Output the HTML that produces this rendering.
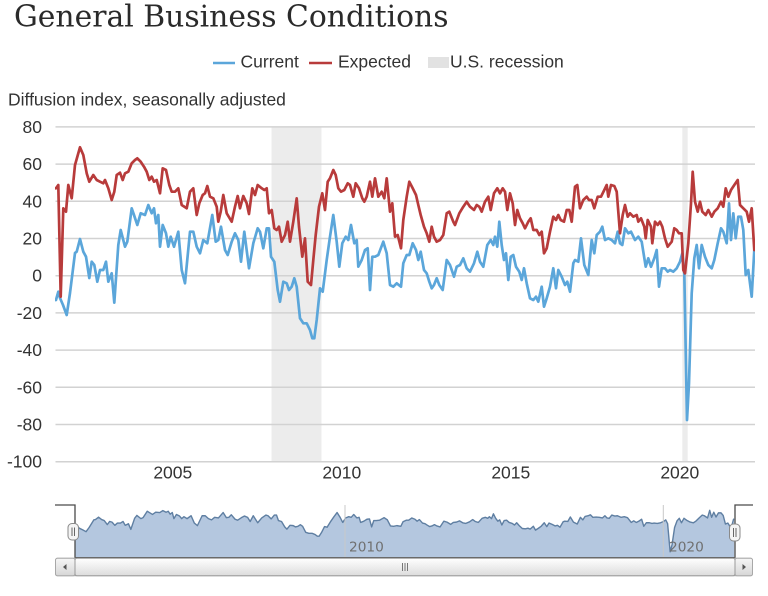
<!DOCTYPE html>
<html>
<head>
<meta charset="utf-8">
<style>
  html, body { margin: 0; padding: 0; background: #fff; }
  svg { display: block; }
  .lbl { font-family: "Liberation Sans", Arial, sans-serif; font-size: 17.5px; fill: #333; }
</style>
</head>
<body>
<svg width="768" height="596" viewBox="0 0 768 596" xmlns="http://www.w3.org/2000/svg">
  <defs>
    <clipPath id="plot"><rect x="55" y="120" width="700" height="345"/></clipPath>
    <clipPath id="nav"><rect x="75" y="500" width="660" height="58"/></clipPath>
    <linearGradient id="sb" x1="0" y1="0" x2="0" y2="1">
      <stop offset="0" stop-color="#ffffff"/>
      <stop offset="1" stop-color="#dcdcdc"/>
    </linearGradient>
    <linearGradient id="btn" x1="0" y1="0" x2="0" y2="1">
      <stop offset="0" stop-color="#f6f6f6"/>
      <stop offset="1" stop-color="#d6d6d6"/>
    </linearGradient>
  </defs>

  <rect width="768" height="596" fill="#fff"/>

  <!-- Title -->
  <text x="14" y="26.7" font-family="'DejaVu Serif', 'Liberation Serif', serif" font-size="29.8" fill="#2a2a2a">General Business Conditions</text>

  <!-- Legend -->
  <line x1="213" y1="63" x2="235" y2="63" stroke="#5ba6da" stroke-width="2.4"/>
  <text class="lbl" x="240.5" y="67.7">Current</text>
  <line x1="309" y1="63" x2="332" y2="63" stroke="#b83b3b" stroke-width="2.4"/>
  <text class="lbl" x="338" y="67.7">Expected</text>
  <rect x="428" y="57" width="21" height="11" fill="#e2e2e2"/>
  <text class="lbl" x="450" y="67.7">U.S. recession</text>

  <!-- Axis title -->
  <text class="lbl" x="8" y="105.7">Diffusion index, seasonally adjusted</text>

  <!-- Recession bands -->
  <rect x="271.5" y="127" width="50" height="335" fill="#ececec"/>
  <rect x="682.3" y="127" width="5.4" height="335" fill="#ececec"/>

  <!-- Gridlines -->
  <g stroke="#d2d2d2" stroke-width="1.5">
    <line x1="55.5" y1="126.9" x2="755" y2="126.9"/>
    <line x1="55.5" y1="164.1" x2="755" y2="164.1"/>
    <line x1="55.5" y1="201.3" x2="755" y2="201.3"/>
    <line x1="55.5" y1="238.5" x2="755" y2="238.5"/>
    <line x1="55.5" y1="275.7" x2="755" y2="275.7"/>
    <line x1="55.5" y1="312.9" x2="755" y2="312.9"/>
    <line x1="55.5" y1="350.1" x2="755" y2="350.1"/>
    <line x1="55.5" y1="387.3" x2="755" y2="387.3"/>
    <line x1="55.5" y1="424.5" x2="755" y2="424.5"/>
    <line x1="55.5" y1="461.7" x2="755" y2="461.7"/>
  </g>

  <!-- Y labels -->
  <g class="lbl" text-anchor="end">
    <text x="42" y="132.9">80</text>
    <text x="42" y="170.1">60</text>
    <text x="42" y="207.3">40</text>
    <text x="42" y="244.5">20</text>
    <text x="42" y="281.7">0</text>
    <text x="42" y="318.9">-20</text>
    <text x="42" y="356.1">-40</text>
    <text x="42" y="393.3">-60</text>
    <text x="42" y="430.5">-80</text>
    <text x="42" y="467.7">-100</text>
  </g>

  <!-- X labels -->
  <g class="lbl" text-anchor="middle">
    <text x="172.8" y="478.3">2005</text>
    <text x="341.8" y="478.3">2010</text>
    <text x="510.8" y="478.3">2015</text>
    <text x="679.8" y="478.3">2020</text>
  </g>

  <!-- Series -->
  <g clip-path="url(#plot)" fill="none" stroke-linejoin="round" stroke-linecap="round">
    <polyline stroke="#5ba6da" stroke-width="2.7" points="55,300 56,300 58.3,291.7 60,298 63,305 66.7,315 70,293 75,253 76.7,251.7 80,239 83.3,251.7 86,256.7 89.3,278 91.7,261.7 94.3,265 97.3,281.7 100,270 103.3,270 106,261.7 108.3,281.7 111.7,273.3 114.3,302.7 118.3,245 120.7,230 125,246.7 127.3,241.7 131.7,208.3 134,215 137.3,225 140.7,213.3 145,215 148.3,205 151.7,213.3 154,208.3 156,223.3 158.3,215 160,246.7 162.7,225 166,233.3 168.3,246.7 170.7,236.7 174,246.7 178.3,231.7 181.7,270 185,283.3 190,231.7 193.3,231.7 196.7,246.7 200,253.3 203.3,240 207.3,243.3 212.3,215 215.7,241.7 218.3,240 221,226.7 225,250 227.7,255 231.7,241.7 235,233.3 238.3,240 241,261.7 244.3,231.7 249,268.3 253.3,243.3 257.7,228.3 260,231.7 263.3,248.3 266.7,228.3 269,228.3 271,256.7 274.3,261.7 277.7,290 280,301.7 283.3,281.7 286.7,283.3 289,290 291.7,286.7 294.3,278.3 296.7,286.7 300,318.3 303.3,323.3 306.7,323.3 310,330 312.3,338.3 314.3,338.3 316.7,320 320,288.3 322.7,291.7 326.7,260 330,236.7 333.3,215 336.7,241.7 339.3,266.7 342.3,243.3 345.7,236.7 348.3,240 351,225 354.3,243.3 356.7,240 358.3,266.7 361.7,260 365,250 367.7,248.3 370,290 372.3,256.7 375,256.7 378.3,255 383.3,241.7 386.7,253.3 390,285 393.3,286.7 396.7,283.3 401,286.7 403.3,263.3 406.7,255 409.3,255 412.7,243.3 416,250 418.3,260 420.7,251.7 424,270 426.7,273.3 429.3,281.7 431.7,288.3 434,285 436.7,278.3 439.3,285 442.7,290 446.7,260 450,265 454,276.7 456.7,266.7 460,265 463.3,258.3 466.7,268.3 470,271.7 474,263.3 477.3,251.7 480,261.7 483.3,266.7 487.3,245 490.7,240 493.3,245 495,236.7 497.3,246.7 499.3,221.7 501.7,245 504,260 506,253.3 508.3,280 510.7,256.7 513.3,255 516,266.7 519.3,271.7 521.7,280 524,268.3 526.7,283.3 530,298.3 533.3,300 536,296.7 538.3,301.7 541.7,286.7 544,306.7 546.7,298.3 550,286.7 553.3,268.3 556,288.3 558.3,270 561.7,276.7 565,285 567.3,281.7 570,291.7 573.3,263.3 575,260 578.3,261.7 581,238.3 584.3,265 588.3,275 591.7,240 594.3,253.3 596.7,235 600,231.7 602.3,226.7 605,240 608.3,238.3 611.7,240 615,243.3 617.7,231.7 620,243.3 622.3,245 625,228.3 628.3,233.3 631,231.7 635,240 638.3,236.7 641.7,241.7 645.7,266.7 648.3,258.3 651,266.7 654.3,258.3 656.7,250 659,286.7 661.7,268.3 665,268.3 667.7,271.7 670,270 673.3,271.7 676.7,268.3 680,261.7 682.3,253.3 684.3,273.3 687,420 689,383.3 691.7,293.3 694.3,258.3 696.7,245 699,268.3 701.7,245 705,256.7 708.3,265 711.7,268.3 714.3,260 717.7,243.3 721,228.3 723.3,231.7 726.7,243.3 729,203.3 731,240 733.3,213.3 735.7,238.3 738.3,216.7 741,216.7 743.3,230 745.7,275 748.3,270 751.7,296.7 754.3,250"/>
    <polyline stroke="#b83b3b" stroke-width="2.7" points="55,188.3 56,188.3 58.3,185 60.7,296.7 63.3,208.3 66,211.7 68.3,185 71.7,198.3 75,165 80,147.3 83.3,155 86.7,173.3 89.3,181.7 93.3,175 96.7,180 100,181.7 103.3,183.3 105,180 108.3,188.3 111.7,200 114.3,191.7 116.7,175 120,172.7 122.7,180 125,173.3 128.3,171.7 131.7,163.3 135,160 137.3,158.3 140.7,161.7 144,166.7 146.7,171.7 149.3,180 151.7,176.7 154,181.7 156.7,180 160,193.3 162.7,168.3 166,170 169.3,185 171.7,191.7 175,191.7 178.3,188.3 181.7,205 186.7,208.3 190,191.7 193.3,188.3 196.7,215 199.3,203.3 202.7,195 205,193.3 207.3,186 210,196.7 213.3,198.3 216.7,206.7 218.3,221.7 220.7,211.7 223.3,195 226.7,213.3 231.7,221.7 235,206.7 237.7,196 240,208.3 243.3,196 246.7,203.3 249,214 252.3,188.3 255,195 257.7,185 261.7,188.3 264.3,190 266.7,188.3 269,213.3 271.7,210 274.3,228.3 276.7,230 279,226.7 281.7,241.7 285,235 287.7,221.7 290,241.7 293.3,221.7 296.7,198.3 299,226.7 302.3,256.7 305,238.3 307.7,281.7 311,285 313.3,260 315.7,235 319,206.7 322.3,193.3 325,210 327.7,181.7 330,178.3 333.3,170 335.7,175 338.3,188.3 341,191.7 344.3,190 347.7,183.3 350,185 353.3,196.7 355.7,183.3 359,188.3 362.3,198.3 364.3,201.7 366.7,196.7 370,181.7 372.3,196.7 375,178.3 378.3,196.7 381.7,191.7 384.3,198.3 386.7,178.3 390,211.7 392.3,203.3 395,236.7 397.7,235 401,248.3 403.3,220 406.7,196.7 409.3,181.7 412.7,188.3 416,195 418.3,205 420.7,215 424,226.7 426.7,233.3 429.3,241.7 431.7,226.7 434,236.7 436.7,241.7 440,240 443.3,235 446.7,213.3 449.3,211.7 453.3,221.7 455,225 459.3,213.3 463.3,206.7 466.7,201.7 470,206.7 474,210 476.7,205 479.3,206.7 481.7,211.7 485,201.7 488.3,196.7 490.7,210 494,193.3 497.3,188.3 500,193.3 502.7,188.3 505,191.7 507.3,210 510,193.3 512.7,203.3 515,225 517.3,210 520,218.3 522.7,223.3 525,228.3 528.3,221.7 530.7,218.3 533.3,230 536.7,230 539.3,235 541.7,231.7 544,253.3 546.7,248.3 550,231.7 553.3,216.7 556,220 558.3,215 560.7,220 564,221.7 566.7,210 569.3,210 571.7,221.7 575,186.7 577.3,185 580,208.3 583.3,200 586.7,196.7 589,200 591.7,200 594.3,208.3 597.7,196.7 601,196.7 604.3,190 606.7,185 608.3,196.7 611,185 614.3,186 616.7,191.7 620,233.3 622.7,215 625,205 627.7,216.7 630,213.3 633.3,216.7 636.7,215 638.3,221.7 641,218.3 644.3,226.7 645.7,238.3 647.7,220 651,226.7 652.3,243.3 655,221.7 657.7,225 660,221.7 662.3,226.7 665,238.3 667.7,246.7 671.7,241.7 674.3,228.3 676.7,230 679,233.3 681.7,233.3 683.3,270 685,273.3 688.3,243.3 691,203.3 692.7,171.7 695,201.7 697.7,211.7 700,201.7 702.3,211.7 705.7,215 708.3,210 711.7,216.7 714.3,211.7 717.7,208.3 721,201.7 723.3,206.7 725.7,188.3 728.3,196.7 731,190 734.3,185 737.7,180 740,205 743.3,208.3 746.7,211.7 749,221.7 751.7,208.3 754.3,250"/>
  </g>

  <!-- Navigator -->
  <g clip-path="url(#nav)">
    <g transform="matrix(0.9417 0 0 0.1914 23.21 471.4)">
      <polygon fill="#b4c7df" stroke="none" points="55,300 56,300 58.3,291.7 60,298 63,305 66.7,315 70,293 75,253 76.7,251.7 80,239 83.3,251.7 86,256.7 89.3,278 91.7,261.7 94.3,265 97.3,281.7 100,270 103.3,270 106,261.7 108.3,281.7 111.7,273.3 114.3,302.7 118.3,245 120.7,230 125,246.7 127.3,241.7 131.7,208.3 134,215 137.3,225 140.7,213.3 145,215 148.3,205 151.7,213.3 154,208.3 156,223.3 158.3,215 160,246.7 162.7,225 166,233.3 168.3,246.7 170.7,236.7 174,246.7 178.3,231.7 181.7,270 185,283.3 190,231.7 193.3,231.7 196.7,246.7 200,253.3 203.3,240 207.3,243.3 212.3,215 215.7,241.7 218.3,240 221,226.7 225,250 227.7,255 231.7,241.7 235,233.3 238.3,240 241,261.7 244.3,231.7 249,268.3 253.3,243.3 257.7,228.3 260,231.7 263.3,248.3 266.7,228.3 269,228.3 271,256.7 274.3,261.7 277.7,290 280,301.7 283.3,281.7 286.7,283.3 289,290 291.7,286.7 294.3,278.3 296.7,286.7 300,318.3 303.3,323.3 306.7,323.3 310,330 312.3,338.3 314.3,338.3 316.7,320 320,288.3 322.7,291.7 326.7,260 330,236.7 333.3,215 336.7,241.7 339.3,266.7 342.3,243.3 345.7,236.7 348.3,240 351,225 354.3,243.3 356.7,240 358.3,266.7 361.7,260 365,250 367.7,248.3 370,290 372.3,256.7 375,256.7 378.3,255 383.3,241.7 386.7,253.3 390,285 393.3,286.7 396.7,283.3 401,286.7 403.3,263.3 406.7,255 409.3,255 412.7,243.3 416,250 418.3,260 420.7,251.7 424,270 426.7,273.3 429.3,281.7 431.7,288.3 434,285 436.7,278.3 439.3,285 442.7,290 446.7,260 450,265 454,276.7 456.7,266.7 460,265 463.3,258.3 466.7,268.3 470,271.7 474,263.3 477.3,251.7 480,261.7 483.3,266.7 487.3,245 490.7,240 493.3,245 495,236.7 497.3,246.7 499.3,221.7 501.7,245 504,260 506,253.3 508.3,280 510.7,256.7 513.3,255 516,266.7 519.3,271.7 521.7,280 524,268.3 526.7,283.3 530,298.3 533.3,300 536,296.7 538.3,301.7 541.7,286.7 544,306.7 546.7,298.3 550,286.7 553.3,268.3 556,288.3 558.3,270 561.7,276.7 565,285 567.3,281.7 570,291.7 573.3,263.3 575,260 578.3,261.7 581,238.3 584.3,265 588.3,275 591.7,240 594.3,253.3 596.7,235 600,231.7 602.3,226.7 605,240 608.3,238.3 611.7,240 615,243.3 617.7,231.7 620,243.3 622.3,245 625,228.3 628.3,233.3 631,231.7 635,240 638.3,236.7 641.7,241.7 645.7,266.7 648.3,258.3 651,266.7 654.3,258.3 656.7,250 659,286.7 661.7,268.3 665,268.3 667.7,271.7 670,270 673.3,271.7 676.7,268.3 680,261.7 682.3,253.3 684.3,273.3 687,420 689,383.3 691.7,293.3 694.3,258.3 696.7,245 699,268.3 701.7,245 705,256.7 708.3,265 711.7,268.3 714.3,260 717.7,243.3 721,228.3 723.3,231.7 726.7,243.3 729,203.3 731,240 733.3,213.3 735.7,238.3 738.3,216.7 741,216.7 743.3,230 745.7,275 748.3,270 751.7,296.7 754.3,250 755,250 755,452 55,452"/>
      <polyline fill="none" stroke="#5f7fa2" stroke-width="1.4" vector-effect="non-scaling-stroke" stroke-linejoin="round" points="55,300 56,300 58.3,291.7 60,298 63,305 66.7,315 70,293 75,253 76.7,251.7 80,239 83.3,251.7 86,256.7 89.3,278 91.7,261.7 94.3,265 97.3,281.7 100,270 103.3,270 106,261.7 108.3,281.7 111.7,273.3 114.3,302.7 118.3,245 120.7,230 125,246.7 127.3,241.7 131.7,208.3 134,215 137.3,225 140.7,213.3 145,215 148.3,205 151.7,213.3 154,208.3 156,223.3 158.3,215 160,246.7 162.7,225 166,233.3 168.3,246.7 170.7,236.7 174,246.7 178.3,231.7 181.7,270 185,283.3 190,231.7 193.3,231.7 196.7,246.7 200,253.3 203.3,240 207.3,243.3 212.3,215 215.7,241.7 218.3,240 221,226.7 225,250 227.7,255 231.7,241.7 235,233.3 238.3,240 241,261.7 244.3,231.7 249,268.3 253.3,243.3 257.7,228.3 260,231.7 263.3,248.3 266.7,228.3 269,228.3 271,256.7 274.3,261.7 277.7,290 280,301.7 283.3,281.7 286.7,283.3 289,290 291.7,286.7 294.3,278.3 296.7,286.7 300,318.3 303.3,323.3 306.7,323.3 310,330 312.3,338.3 314.3,338.3 316.7,320 320,288.3 322.7,291.7 326.7,260 330,236.7 333.3,215 336.7,241.7 339.3,266.7 342.3,243.3 345.7,236.7 348.3,240 351,225 354.3,243.3 356.7,240 358.3,266.7 361.7,260 365,250 367.7,248.3 370,290 372.3,256.7 375,256.7 378.3,255 383.3,241.7 386.7,253.3 390,285 393.3,286.7 396.7,283.3 401,286.7 403.3,263.3 406.7,255 409.3,255 412.7,243.3 416,250 418.3,260 420.7,251.7 424,270 426.7,273.3 429.3,281.7 431.7,288.3 434,285 436.7,278.3 439.3,285 442.7,290 446.7,260 450,265 454,276.7 456.7,266.7 460,265 463.3,258.3 466.7,268.3 470,271.7 474,263.3 477.3,251.7 480,261.7 483.3,266.7 487.3,245 490.7,240 493.3,245 495,236.7 497.3,246.7 499.3,221.7 501.7,245 504,260 506,253.3 508.3,280 510.7,256.7 513.3,255 516,266.7 519.3,271.7 521.7,280 524,268.3 526.7,283.3 530,298.3 533.3,300 536,296.7 538.3,301.7 541.7,286.7 544,306.7 546.7,298.3 550,286.7 553.3,268.3 556,288.3 558.3,270 561.7,276.7 565,285 567.3,281.7 570,291.7 573.3,263.3 575,260 578.3,261.7 581,238.3 584.3,265 588.3,275 591.7,240 594.3,253.3 596.7,235 600,231.7 602.3,226.7 605,240 608.3,238.3 611.7,240 615,243.3 617.7,231.7 620,243.3 622.3,245 625,228.3 628.3,233.3 631,231.7 635,240 638.3,236.7 641.7,241.7 645.7,266.7 648.3,258.3 651,266.7 654.3,258.3 656.7,250 659,286.7 661.7,268.3 665,268.3 667.7,271.7 670,270 673.3,271.7 676.7,268.3 680,261.7 682.3,253.3 684.3,273.3 687,420 689,383.3 691.7,293.3 694.3,258.3 696.7,245 699,268.3 701.7,245 705,256.7 708.3,265 711.7,268.3 714.3,260 717.7,243.3 721,228.3 723.3,231.7 726.7,243.3 729,203.3 731,240 733.3,213.3 735.7,238.3 738.3,216.7 741,216.7 743.3,230 745.7,275 748.3,270 751.7,296.7 754.3,250 755,250"/>
    </g>
  </g>
  <!-- nav grid lines & labels -->
  <line x1="345" y1="505" x2="345" y2="557.7" stroke="#c8c8c8" stroke-width="1"/>
  <line x1="663.3" y1="505" x2="663.3" y2="557.7" stroke="#c8c8c8" stroke-width="1"/>
  <text x="349" y="551.7" font-family="'DejaVu Sans', 'Liberation Sans', sans-serif" font-size="13.7" fill="#707070">2010</text>
  <text x="669" y="551.7" font-family="'DejaVu Sans', 'Liberation Sans', sans-serif" font-size="13.7" fill="#707070">2020</text>

  <!-- nav outline -->
  <path d="M55,505 H75 V557.7 H735 V505 H753" fill="none" stroke="#4a4a4a" stroke-width="1.3"/>

  <!-- Scrollbar -->
  <rect x="55.5" y="558.3" width="697" height="17.5" rx="2" fill="url(#sb)" stroke="#b0b0b0" stroke-width="1"/>
  <rect x="55.5" y="558.3" width="19.5" height="17.5" rx="2" fill="url(#btn)" stroke="#a8a8a8" stroke-width="1"/>
  <rect x="735" y="558.3" width="17.5" height="17.5" rx="2" fill="url(#btn)" stroke="#a8a8a8" stroke-width="1"/>
  <rect x="75" y="558.3" width="660" height="17.5" rx="2" fill="url(#sb)" stroke="#9a9a9a" stroke-width="1"/>
  <path d="M66.5,564 L63,567 L66.5,570 Z" fill="#555"/>
  <path d="M742.5,564 L746,567 L742.5,570 Z" fill="#555"/>
  <g stroke="#777" stroke-width="1">
    <line x1="402.5" y1="563" x2="402.5" y2="571"/>
    <line x1="405" y1="563" x2="405" y2="571"/>
    <line x1="407.5" y1="563" x2="407.5" y2="571"/>
  </g>

  <!-- Handles -->
  <rect x="68" y="523.5" width="10.5" height="16.5" rx="4" fill="#f4f4f4" stroke="#8a8a8a" stroke-width="1"/>
  <line x1="72" y1="527.5" x2="72" y2="536" stroke="#666" stroke-width="1"/>
  <line x1="74.5" y1="527.5" x2="74.5" y2="536" stroke="#666" stroke-width="1"/>
  <rect x="729.5" y="524" width="10.5" height="17" rx="4" fill="#f4f4f4" stroke="#8a8a8a" stroke-width="1"/>
  <line x1="733.5" y1="528" x2="733.5" y2="537" stroke="#666" stroke-width="1"/>
  <line x1="736" y1="528" x2="736" y2="537" stroke="#666" stroke-width="1"/>
</svg>
</body>
</html>
